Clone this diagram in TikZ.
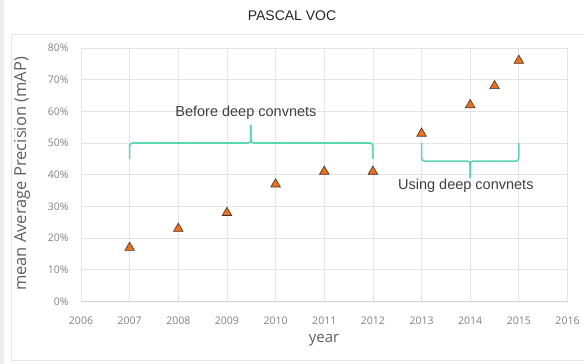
\documentclass[tikz,border=0pt]{standalone}
\usepackage{fontspec}
\setmainfont{Open Sans}
\newfontfamily\annofont{Liberation Sans}
\usetikzlibrary{shapes.geometric}

\definecolor{gridgray}{HTML}{E4E4E4}
\definecolor{ticktext}{HTML}{808080}
\definecolor{axtext}{HTML}{606060}
\definecolor{markorange}{HTML}{E8701E}
\definecolor{markedge}{HTML}{4A3020}
\definecolor{bracegreen}{HTML}{5CD6AC}

\begin{document}
\begin{tikzpicture}[x=1pt,y=-1pt,
  grid/.style={draw=gridgray,line width=0.8pt},
  ticklab/.style={text=ticktext,font=\fontsize{10.5}{12}\selectfont,inner sep=1pt},
  axlab/.style={text=axtext,font=\fontsize{15}{17}\selectfont,inner sep=1pt},
  anno/.style={text=black!75,font=\annofont\fontsize{14.5}{17}\selectfont,inner sep=1pt},
  bracket/.style={draw=bracegreen,line width=1.6pt,rounded corners=3pt},
  tri/.style={regular polygon,regular polygon sides=3,draw=markedge,fill=markorange,
              line width=0.6pt,minimum size=11pt,inner sep=0pt}]
\useasboundingbox (0,0) rectangle (584,364);
% page and chart frame
\fill[white] (0,0) rectangle (584,364);
\fill[black!7] (0,0) rectangle (4,364);
\draw[black!10,line width=0.8pt] (584,34) -- (11,34) -- (11,360) -- (584,360);

\node[font=\annofont\fontsize{14}{16}\selectfont,text=black!85] (title) at (292,16) {PASCAL VOC};

% plot area in data units: one year across, one percent up
\begin{scope}[shift={(81,301.5)},x=48.65pt,y=3.17pt]
  \foreach \v in {10,20,...,80}
    \draw[grid] (0,\v) -- (10,\v);
  \foreach \t in {0,...,10}
    \draw[grid] (\t,0) -- (\t,80);
  \draw[draw=black!18,line width=0.8pt] (0,0) -- (10,0);

  \foreach \v in {0,10,...,80}
    \node[ticklab,anchor=east] (y\v) at (-0.23,\v) {\v\%};
  \foreach \t in {0,...,10} {
    \pgfmathtruncatemacro\yr{2006+\t}
    \node[ticklab] (x\t) at (\t,-6.2) {\yr};
  }

  % results per year
  \foreach \yr/\v [count=\i] in {2007/17,2008/23,2009/28,2010/37,2011/41,
                                 2012/41,2013/53,2014/62,2014.5/68,2015/76}
    \node[tri] (p\i) at (\yr-2006,\v) {};

  % before deep convnets
  \draw[bracket] (1,45) |- (3.49,50) -- (3.49,55.7);
  \draw[bracket] (3.49,55.7) -- (3.49,50) -| (6,45);
  \node[anno] (before) at (3.39,59.5) {Before deep convnets};

  % using deep convnets
  \draw[bracket] (7,50) |- (8,44.3) -- (8,39);
  \draw[bracket] (8,39) -- (8,44.3) -| (9,50);
  \node[anno] (using) at (7.91,36.4) {Using deep convnets};
\end{scope}

\node[axlab,rotate=90,font=\fontsize{16.5}{18}\selectfont] (ytitle) at (22,174) {mean Average Precision (mAP)};
\node[axlab] (xtitle) at (324,340) {year};
\end{tikzpicture}
\end{document}
